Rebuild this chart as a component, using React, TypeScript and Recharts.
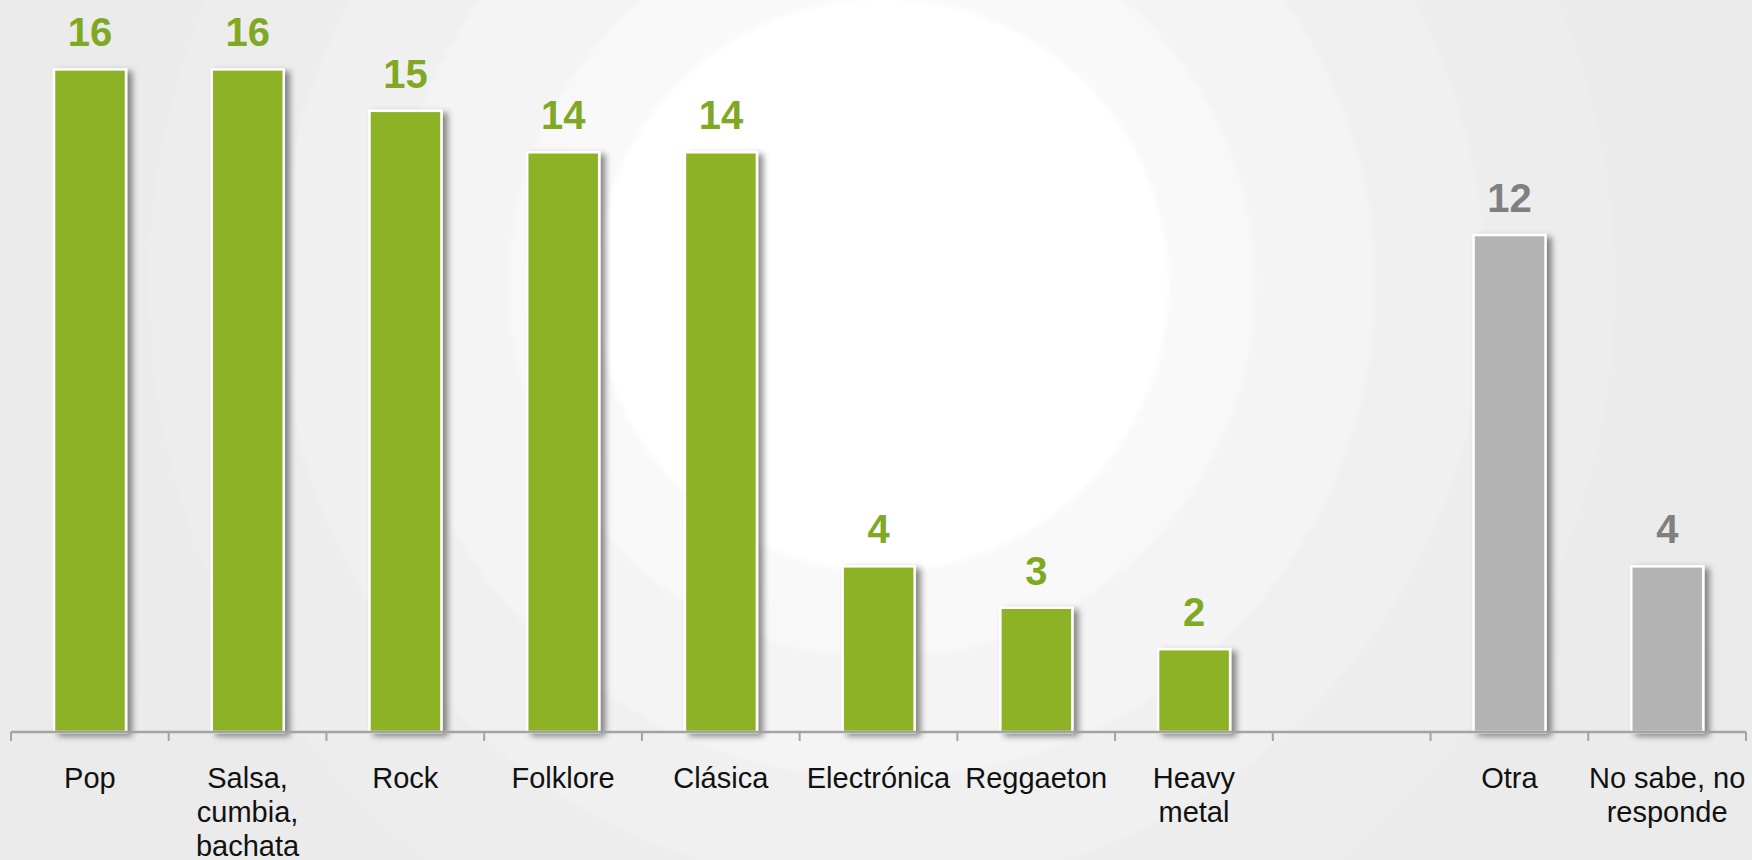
import React from "react";
import { BarChart, Bar, XAxis, YAxis, Cell, LabelList } from "recharts";

// Music genres survey (%)
const categories = [
  "Pop",
  "Salsa, cumbia, bachata",
  "Rock",
  "Folklore",
  "Clásica",
  "Electrónica",
  "Reggaeton",
  "Heavy metal",
  "",
  "Otra",
  "No sabe, no responde",
];
// tick labels as they wrap in the original
const tickLabels: string[][] = [
  ["Pop"],
  ["Salsa,", "cumbia,", "bachata"],
  ["Rock"],
  ["Folklore"],
  ["Clásica"],
  ["Electrónica"],
  ["Reggaeton"],
  ["Heavy", "metal"],
  [],
  ["Otra"],
  ["No sabe, no", "responde"],
];
const values: (number | null)[] = [16, 16, 15, 14, 14, 4, 3, 2, null, 12, 4];
const otherCategories = ["Otra", "No sabe, no responde"];

const data = categories.map((name, i) => ({ name, value: values[i] }));

const W = 1752;
const H = 860;
const MARGIN = { top: 28, right: 6, bottom: 98, left: 11 };
const BAND = (W - MARGIN.left - MARGIN.right) / categories.length;

const GREEN = "#8db226";
const GREEN_LABEL = "#80a923";
const GREY = "#b3b3b3";
const GREY_LABEL = "#808080";
const AXIS = "#a3a3a3";
const FONT = "Liberation Sans, Arial, sans-serif";

const isOther = (name: string) => otherCategories.includes(name);

const BarShape = (props: any) => {
  const { x, y, width, height, fill } = props;
  if (!height || height <= 0) return null;
  return (
    <rect
      x={x}
      y={y}
      width={width}
      height={height}
      fill={fill}
      stroke="#ffffff"
      strokeWidth={2.5}
      filter="url(#barShadow)"
    />
  );
};

const ValueLabel = (props: any) => {
  const { x, y, width, value } = props;
  if (value == null) return null;
  const cx = x + width / 2;
  const idx = Math.floor((cx - MARGIN.left) / BAND);
  const color = isOther(categories[idx]) ? GREY_LABEL : GREEN_LABEL;
  return (
    <text
      x={cx}
      y={y - 23}
      textAnchor="middle"
      fill={color}
      fontSize={40}
      fontWeight="bold"
      fontFamily={FONT}
    >
      {value}
    </text>
  );
};

const GenreTick = (props: any) => {
  const { x, y, index } = props;
  const half = BAND / 2;
  const last = index === categories.length - 1;
  const lines = tickLabels[index] || [];
  return (
    <g>
      <line x1={x - half} x2={x - half} y1={y} y2={y + 9} stroke={AXIS} strokeWidth={2} />
      {last && (
        <line x1={x + half} x2={x + half} y1={y} y2={y + 9} stroke={AXIS} strokeWidth={2} />
      )}
      <text x={x} y={y + 56} textAnchor="middle" fontSize={29} fill="#111111" fontFamily={FONT}>
        {lines.map((l, i) => (
          <tspan key={i} x={x} dy={i === 0 ? 0 : 34}>
            {l}
          </tspan>
        ))}
      </text>
    </g>
  );
};

export default function App() {
  return (
    <div
      style={{
        position: "absolute",
        left: 0,
        top: 0,
        width: W,
        height: H,
        background:
          "radial-gradient(circle at 882px 285px, #ffffff 0px, #ffffff 283px, #f9f9fa 290px, #f8f8f9 370px, #f4f4f5 376px, #f4f4f5 490px, #f0f0f1 496px, #f0f0f1 600px, #ededee 606px, #ededee 730px, #ebebeb 736px, #eaeaea 2000px)",
        fontFamily: FONT,
      }}
    >
      <svg width={0} height={0} style={{ position: "absolute" }}>
        <defs>
          <filter id="barShadow" x="-20%" y="-20%" width="150%" height="140%">
            <feDropShadow dx={5} dy={3} stdDeviation={3} floodColor="#000000" floodOpacity={0.45} />
          </filter>
        </defs>
      </svg>
      <BarChart width={W} height={H} data={data} margin={MARGIN}>
        <XAxis
          dataKey="name"
          interval={0}
          height={30}
          axisLine={{ stroke: AXIS, strokeWidth: 2.5 }}
          tickLine={false}
          tickSize={0}
          tickMargin={0}
          tick={<GenreTick />}
        />
        <YAxis hide domain={[0, 17]} />
        <Bar dataKey="value" barSize={72} isAnimationActive={false} shape={<BarShape />}>
          {data.map((d, i) => (
            <Cell key={i} fill={isOther(d.name) ? GREY : GREEN} />
          ))}
          <LabelList dataKey="value" content={<ValueLabel />} />
        </Bar>
      </BarChart>
    </div>
  );
}
